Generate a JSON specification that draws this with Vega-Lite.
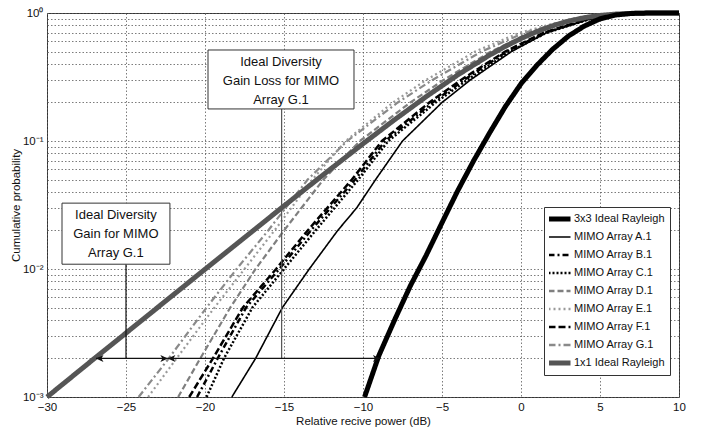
{
  "$schema": "https://vega.github.io/schema/vega-lite/v6.json",
  "width": 632,
  "height": 384,
  "autosize": {"type": "none"},
  "padding": {"left": 47, "top": 13, "right": 32, "bottom": 37},
  "background": "#ffffff",
  "config": {
    "view": {"stroke": "#333333", "strokeWidth": 1},
    "font": "Liberation Sans",
    "axis": {
      "labelFont": "Liberation Sans",
      "titleFont": "Liberation Sans",
      "labelColor": "#111111",
      "titleColor": "#111111",
      "titleFontWeight": "normal",
      "domain": false,
      "ticks": false,
      "grid": true,
      "gridColor": "#5a5a5a",
      "gridDash": [1.5, 2],
      "gridWidth": 0.8
    }
  },
  "datasets": {
    "cdf": [
      {"s": "1x1 Ideal Rayleigh", "x": -30, "p": 0.001},
      {"s": "1x1 Ideal Rayleigh", "x": -27, "p": 0.002},
      {"s": "1x1 Ideal Rayleigh", "x": -25, "p": 0.00316},
      {"s": "1x1 Ideal Rayleigh", "x": -22, "p": 0.00629},
      {"s": "1x1 Ideal Rayleigh", "x": -20, "p": 0.00995},
      {"s": "1x1 Ideal Rayleigh", "x": -17.5, "p": 0.0176},
      {"s": "1x1 Ideal Rayleigh", "x": -15, "p": 0.0311},
      {"s": "1x1 Ideal Rayleigh", "x": -12.5, "p": 0.0547},
      {"s": "1x1 Ideal Rayleigh", "x": -10, "p": 0.0952},
      {"s": "1x1 Ideal Rayleigh", "x": -8, "p": 0.1467},
      {"s": "1x1 Ideal Rayleigh", "x": -6, "p": 0.2222},
      {"s": "1x1 Ideal Rayleigh", "x": -4, "p": 0.3284},
      {"s": "1x1 Ideal Rayleigh", "x": -2, "p": 0.468},
      {"s": "1x1 Ideal Rayleigh", "x": -1, "p": 0.548},
      {"s": "1x1 Ideal Rayleigh", "x": 0, "p": 0.632},
      {"s": "1x1 Ideal Rayleigh", "x": 1, "p": 0.716},
      {"s": "1x1 Ideal Rayleigh", "x": 2, "p": 0.795},
      {"s": "1x1 Ideal Rayleigh", "x": 3, "p": 0.864},
      {"s": "1x1 Ideal Rayleigh", "x": 4, "p": 0.919},
      {"s": "1x1 Ideal Rayleigh", "x": 5, "p": 0.958},
      {"s": "1x1 Ideal Rayleigh", "x": 6, "p": 0.981},
      {"s": "1x1 Ideal Rayleigh", "x": 7, "p": 0.9933},
      {"s": "1x1 Ideal Rayleigh", "x": 8, "p": 0.9982},
      {"s": "1x1 Ideal Rayleigh", "x": 9, "p": 0.9997},
      {"s": "1x1 Ideal Rayleigh", "x": 10, "p": 1.0},

      {"s": "MIMO Array G.1", "x": -24.2, "p": 0.001},
      {"s": "MIMO Array G.1", "x": -22.3, "p": 0.002},
      {"s": "MIMO Array G.1", "x": -19.9, "p": 0.005},
      {"s": "MIMO Array G.1", "x": -18.0, "p": 0.01},
      {"s": "MIMO Array G.1", "x": -16.0, "p": 0.02},
      {"s": "MIMO Array G.1", "x": -13.5, "p": 0.05},
      {"s": "MIMO Array G.1", "x": -11.0, "p": 0.1},
      {"s": "MIMO Array G.1", "x": -7.8, "p": 0.2},
      {"s": "MIMO Array G.1", "x": -5.6, "p": 0.3},
      {"s": "MIMO Array G.1", "x": -2.5, "p": 0.5},
      {"s": "MIMO Array G.1", "x": 0.2, "p": 0.7},
      {"s": "MIMO Array G.1", "x": 3.4, "p": 0.9},
      {"s": "MIMO Array G.1", "x": 6.4, "p": 0.99},
      {"s": "MIMO Array G.1", "x": 8.4, "p": 1.0},

      {"s": "MIMO Array E.1", "x": -23.6, "p": 0.001},
      {"s": "MIMO Array E.1", "x": -21.8, "p": 0.002},
      {"s": "MIMO Array E.1", "x": -19.4, "p": 0.005},
      {"s": "MIMO Array E.1", "x": -17.5, "p": 0.01},
      {"s": "MIMO Array E.1", "x": -15.6, "p": 0.02},
      {"s": "MIMO Array E.1", "x": -13.2, "p": 0.05},
      {"s": "MIMO Array E.1", "x": -11.1, "p": 0.1},
      {"s": "MIMO Array E.1", "x": -8.1, "p": 0.2},
      {"s": "MIMO Array E.1", "x": -6.0, "p": 0.3},
      {"s": "MIMO Array E.1", "x": -2.9, "p": 0.5},
      {"s": "MIMO Array E.1", "x": -0.1, "p": 0.7},
      {"s": "MIMO Array E.1", "x": 3.2, "p": 0.9},
      {"s": "MIMO Array E.1", "x": 6.3, "p": 0.99},
      {"s": "MIMO Array E.1", "x": 8.3, "p": 1.0},

      {"s": "MIMO Array D.1", "x": -21.7, "p": 0.001},
      {"s": "MIMO Array D.1", "x": -20.3, "p": 0.002},
      {"s": "MIMO Array D.1", "x": -18.4, "p": 0.005},
      {"s": "MIMO Array D.1", "x": -16.8, "p": 0.01},
      {"s": "MIMO Array D.1", "x": -15.0, "p": 0.02},
      {"s": "MIMO Array D.1", "x": -12.5, "p": 0.05},
      {"s": "MIMO Array D.1", "x": -10.2, "p": 0.1},
      {"s": "MIMO Array D.1", "x": -7.0, "p": 0.2},
      {"s": "MIMO Array D.1", "x": -4.9, "p": 0.3},
      {"s": "MIMO Array D.1", "x": -1.9, "p": 0.5},
      {"s": "MIMO Array D.1", "x": 0.6, "p": 0.7},
      {"s": "MIMO Array D.1", "x": 3.6, "p": 0.9},
      {"s": "MIMO Array D.1", "x": 6.5, "p": 0.99},
      {"s": "MIMO Array D.1", "x": 8.5, "p": 1.0},

      {"s": "MIMO Array F.1", "x": -21.0, "p": 0.001},
      {"s": "MIMO Array F.1", "x": -19.5, "p": 0.002},
      {"s": "MIMO Array F.1", "x": -17.6, "p": 0.005},
      {"s": "MIMO Array F.1", "x": -15.5, "p": 0.01},
      {"s": "MIMO Array F.1", "x": -13.5, "p": 0.02},
      {"s": "MIMO Array F.1", "x": -10.7, "p": 0.05},
      {"s": "MIMO Array F.1", "x": -8.8, "p": 0.1},
      {"s": "MIMO Array F.1", "x": -5.8, "p": 0.2},
      {"s": "MIMO Array F.1", "x": -3.8, "p": 0.3},
      {"s": "MIMO Array F.1", "x": -1.0, "p": 0.5},
      {"s": "MIMO Array F.1", "x": 1.4, "p": 0.7},
      {"s": "MIMO Array F.1", "x": 4.2, "p": 0.9},
      {"s": "MIMO Array F.1", "x": 7.0, "p": 0.99},
      {"s": "MIMO Array F.1", "x": 9.0, "p": 1.0},

      {"s": "MIMO Array B.1", "x": -20.5, "p": 0.001},
      {"s": "MIMO Array B.1", "x": -19.2, "p": 0.002},
      {"s": "MIMO Array B.1", "x": -17.4, "p": 0.005},
      {"s": "MIMO Array B.1", "x": -15.3, "p": 0.01},
      {"s": "MIMO Array B.1", "x": -13.3, "p": 0.02},
      {"s": "MIMO Array B.1", "x": -10.5, "p": 0.05},
      {"s": "MIMO Array B.1", "x": -8.6, "p": 0.1},
      {"s": "MIMO Array B.1", "x": -5.6, "p": 0.2},
      {"s": "MIMO Array B.1", "x": -3.6, "p": 0.3},
      {"s": "MIMO Array B.1", "x": -0.9, "p": 0.5},
      {"s": "MIMO Array B.1", "x": 1.5, "p": 0.7},
      {"s": "MIMO Array B.1", "x": 4.3, "p": 0.9},
      {"s": "MIMO Array B.1", "x": 7.0, "p": 0.99},
      {"s": "MIMO Array B.1", "x": 9.0, "p": 1.0},

      {"s": "MIMO Array C.1", "x": -19.9, "p": 0.001},
      {"s": "MIMO Array C.1", "x": -18.8, "p": 0.002},
      {"s": "MIMO Array C.1", "x": -17.0, "p": 0.005},
      {"s": "MIMO Array C.1", "x": -15.0, "p": 0.01},
      {"s": "MIMO Array C.1", "x": -13.0, "p": 0.02},
      {"s": "MIMO Array C.1", "x": -10.3, "p": 0.05},
      {"s": "MIMO Array C.1", "x": -8.4, "p": 0.1},
      {"s": "MIMO Array C.1", "x": -5.4, "p": 0.2},
      {"s": "MIMO Array C.1", "x": -3.4, "p": 0.3},
      {"s": "MIMO Array C.1", "x": -0.7, "p": 0.5},
      {"s": "MIMO Array C.1", "x": 1.6, "p": 0.7},
      {"s": "MIMO Array C.1", "x": 4.4, "p": 0.9},
      {"s": "MIMO Array C.1", "x": 7.1, "p": 0.99},
      {"s": "MIMO Array C.1", "x": 9.0, "p": 1.0},

      {"s": "MIMO Array A.1", "x": -18.3, "p": 0.001},
      {"s": "MIMO Array A.1", "x": -16.8, "p": 0.002},
      {"s": "MIMO Array A.1", "x": -15.1, "p": 0.005},
      {"s": "MIMO Array A.1", "x": -13.4, "p": 0.01},
      {"s": "MIMO Array A.1", "x": -11.6, "p": 0.02},
      {"s": "MIMO Array A.1", "x": -10.4, "p": 0.03},
      {"s": "MIMO Array A.1", "x": -9.2, "p": 0.05},
      {"s": "MIMO Array A.1", "x": -7.5, "p": 0.1},
      {"s": "MIMO Array A.1", "x": -5.0, "p": 0.2},
      {"s": "MIMO Array A.1", "x": -3.2, "p": 0.3},
      {"s": "MIMO Array A.1", "x": -0.6, "p": 0.5},
      {"s": "MIMO Array A.1", "x": 1.6, "p": 0.7},
      {"s": "MIMO Array A.1", "x": 4.4, "p": 0.9},
      {"s": "MIMO Array A.1", "x": 7.2, "p": 0.99},
      {"s": "MIMO Array A.1", "x": 9.0, "p": 1.0},

      {"s": "3x3 Ideal Rayleigh", "x": -9.9, "p": 0.001},
      {"s": "3x3 Ideal Rayleigh", "x": -9, "p": 0.0021},
      {"s": "3x3 Ideal Rayleigh", "x": -8, "p": 0.004},
      {"s": "3x3 Ideal Rayleigh", "x": -7, "p": 0.0074},
      {"s": "3x3 Ideal Rayleigh", "x": -6, "p": 0.0128},
      {"s": "3x3 Ideal Rayleigh", "x": -5, "p": 0.023},
      {"s": "3x3 Ideal Rayleigh", "x": -4, "p": 0.041},
      {"s": "3x3 Ideal Rayleigh", "x": -3, "p": 0.07},
      {"s": "3x3 Ideal Rayleigh", "x": -2, "p": 0.115},
      {"s": "3x3 Ideal Rayleigh", "x": -1, "p": 0.185},
      {"s": "3x3 Ideal Rayleigh", "x": 0, "p": 0.28},
      {"s": "3x3 Ideal Rayleigh", "x": 1, "p": 0.39},
      {"s": "3x3 Ideal Rayleigh", "x": 2, "p": 0.52},
      {"s": "3x3 Ideal Rayleigh", "x": 3, "p": 0.66},
      {"s": "3x3 Ideal Rayleigh", "x": 4, "p": 0.79},
      {"s": "3x3 Ideal Rayleigh", "x": 5, "p": 0.9},
      {"s": "3x3 Ideal Rayleigh", "x": 6, "p": 0.965},
      {"s": "3x3 Ideal Rayleigh", "x": 7, "p": 0.992},
      {"s": "3x3 Ideal Rayleigh", "x": 8, "p": 0.999},
      {"s": "3x3 Ideal Rayleigh", "x": 10, "p": 1.0}
    ]
  },
  "encoding": {
    "x": {
      "field": "x", "type": "quantitative",
      "scale": {"domain": [-30, 10], "nice": false, "zero": false},
      "axis": {
        "title": "Relative recive power (dB)",
        "values": [-30, -25, -20, -15, -10, -5, 0, 5, 10],
        "labelFontSize": 11.5, "titleFontSize": 11.5,
        "labelPadding": 4, "titlePadding": 3,
        "labelFlush": false
      }
    },
    "y": {
      "field": "p", "type": "quantitative",
      "scale": {"type": "log", "domain": [0.001, 1], "nice": false},
      "axis": {
        "title": "Cumulative probability",
        "values": [0.001, 0.002, 0.003, 0.004, 0.005, 0.006, 0.007, 0.008, 0.009,
                   0.01, 0.02, 0.03, 0.04, 0.05, 0.06, 0.07, 0.08, 0.09,
                   0.1, 0.2, 0.3, 0.4, 0.5, 0.6, 0.7, 0.8, 0.9, 1],
        "labelExpr": "datum.value == 1 ? '10⁰' : datum.value == 0.1 ? '10⁻¹' : datum.value == 0.01 ? '10⁻²' : datum.value == 0.001 ? '10⁻³' : ''",
        "labelFontSize": 11.5, "titleFontSize": 11.5,
        "labelPadding": 4, "titlePadding": 1,
        "labelFlush": false, "labelOverlap": false
      }
    }
  },
  "layer": [
    {
      "data": {"name": "cdf"},
      "transform": [{"filter": {"field": "s", "oneOf": ["MIMO Array D.1", "MIMO Array E.1", "MIMO Array G.1"]}}],
      "mark": {"type": "line", "strokeWidth": 2.2, "strokeCap": "butt"},
      "encoding": {
        "color": {
          "field": "s", "type": "nominal",
          "scale": {
            "domain": ["3x3 Ideal Rayleigh", "MIMO Array A.1", "MIMO Array B.1", "MIMO Array C.1", "MIMO Array D.1", "MIMO Array E.1", "MIMO Array F.1", "MIMO Array G.1", "1x1 Ideal Rayleigh"],
            "range": ["#000000", "#000000", "#000000", "#000000", "#7f7f7f", "#9a9a9a", "#000000", "#8a8a8a", "#555555"]
          },
          "legend": {
            "title": null,
            "orient": "none",
            "legendX": 497,
            "legendY": 194,
            "symbolType": "stroke",
            "symbolSize": 484,
            "symbolOffset": 5,
            "labelFont": "Liberation Sans",
            "labelFontSize": 11,
            "labelColor": "#111111",
            "labelOffset": 9,
            "clipHeight": 14,
            "rowPadding": 4,
            "padding": 5,
            "strokeColor": "#333333",
            "fillColor": "#ffffff",
            "encode": {
              "symbols": {
                "update": {
                  "strokeWidth": {"signal": "datum.value == '3x3 Ideal Rayleigh' || datum.value == '1x1 Ideal Rayleigh' ? 5 : datum.value == 'MIMO Array A.1' ? 1.6 : 2.3"}
                }
              }
            }
          }
        },
        "strokeDash": {
          "field": "s", "type": "nominal",
          "scale": {
            "domain": ["3x3 Ideal Rayleigh", "MIMO Array A.1", "MIMO Array B.1", "MIMO Array C.1", "MIMO Array D.1", "MIMO Array E.1", "MIMO Array F.1", "MIMO Array G.1", "1x1 Ideal Rayleigh"],
            "range": [[1, 0], [1, 0], [6, 3, 2, 3], [2, 2], [6, 3], [2, 3], [7, 3], [7, 3, 2, 3], [1, 0]]
          }
        }
      }
    },
    {
      "data": {"name": "cdf"},
      "transform": [{"filter": {"field": "s", "oneOf": ["MIMO Array B.1", "MIMO Array C.1", "MIMO Array F.1"]}}],
      "mark": {"type": "line", "strokeWidth": 2.5, "strokeCap": "butt"},
      "encoding": {
        "color": {"field": "s", "type": "nominal"},
        "strokeDash": {"field": "s", "type": "nominal"}
      }
    },
    {
      "data": {"name": "cdf"},
      "transform": [{"filter": {"field": "s", "oneOf": ["MIMO Array A.1"]}}],
      "mark": {"type": "line", "strokeWidth": 1.6},
      "encoding": {
        "color": {"field": "s", "type": "nominal"},
        "strokeDash": {"field": "s", "type": "nominal"}
      }
    },
    {
      "data": {"name": "cdf"},
      "transform": [{"filter": {"field": "s", "oneOf": ["3x3 Ideal Rayleigh", "1x1 Ideal Rayleigh"]}}],
      "mark": {"type": "line", "strokeWidth": 5, "strokeCap": "butt"},
      "encoding": {
        "color": {"field": "s", "type": "nominal"},
        "strokeDash": {"field": "s", "type": "nominal"}
      }
    },
    {
      "data": {"values": [{"x": -25, "p": 0.0109, "p2": 0.002}]},
      "mark": {"type": "rule", "strokeWidth": 1.2, "color": "#111111"},
      "encoding": {"y2": {"field": "p2"}}
    },
    {
      "data": {"values": [{"x": -15.15, "p": 0.178, "p2": 0.002}]},
      "mark": {"type": "rule", "strokeWidth": 1.2, "color": "#555555"},
      "encoding": {"y2": {"field": "p2"}}
    },
    {
      "data": {
        "values": [
          {"x": -26.9, "x2": -22.35, "p": 0.002},
          {"x": -22.35, "x2": -8.9, "p": 0.002}
        ]
      },
      "mark": {"type": "rule", "strokeWidth": 1.3, "color": "#111111"},
      "encoding": {"x2": {"field": "x2"}}
    },
    {
      "data": {
        "values": [
          {"x": -26.9, "p": 0.002, "dir": "left"},
          {"x": -22.35, "p": 0.002, "dir": "right"},
          {"x": -22.35, "p": 0.002, "dir": "left"},
          {"x": -8.9, "p": 0.002, "dir": "right"}
        ]
      },
      "mark": {"type": "point", "filled": true, "size": 100, "opacity": 1, "color": "#111111"},
      "encoding": {
        "shape": {
          "field": "dir", "type": "nominal",
          "scale": {"domain": ["left", "right"], "range": ["M1.5,-0.7L0,0L1.5,0.7L1.1,0Z", "M-1.5,-0.7L0,0L-1.5,0.7L-1.1,0Z"]},
          "legend": null
        }
      }
    },
    {
      "data": {
        "values": [
          {"x": -29.05, "x2": -22.22, "p": 0.0109, "p2": 0.0327},
          {"x": -19.81, "x2": -10.57, "p": 0.178, "p2": 0.514}
        ]
      },
      "mark": {"type": "rect", "fill": "#ffffff", "stroke": "#333333", "strokeWidth": 1},
      "encoding": {
        "x2": {"field": "x2"},
        "y2": {"field": "p2"}
      }
    },
    {
      "data": {
        "values": [
          {"x": -25.64, "p": 0.0264, "label": "Ideal Diversity\nGain for MIMO\nArray G.1"},
          {"x": -15.19, "p": 0.417, "label": "Ideal Diversity\nGain Loss for MIMO\nArray G.1"}
        ]
      },
      "mark": {"type": "text", "align": "center", "baseline": "middle", "lineBreak": "\n", "lineHeight": 19, "fontSize": 13, "font": "Liberation Sans", "color": "#111111"},
      "encoding": {"text": {"field": "label"}}
    }
  ]
}
